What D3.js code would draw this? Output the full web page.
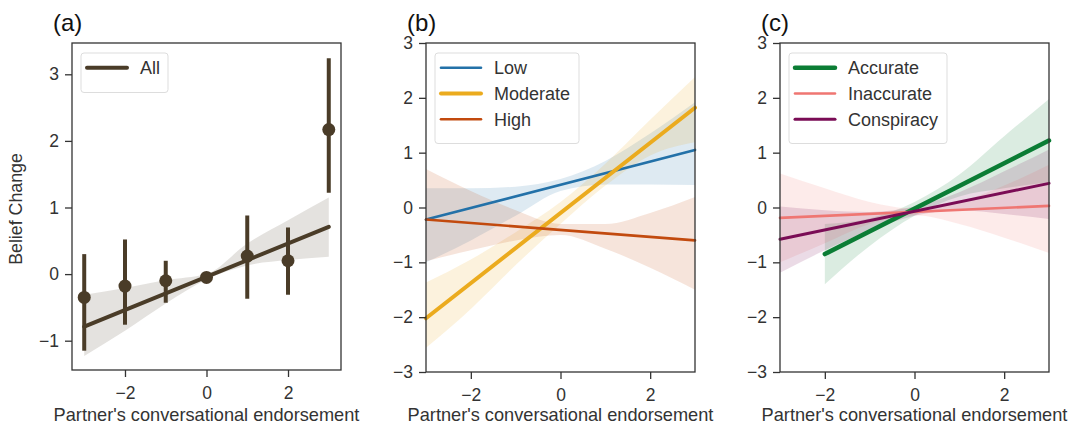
<!DOCTYPE html>
<html>
<head>
<meta charset="utf-8">
<script src="https://cdn.jsdelivr.net/npm/d3@7"></script>
<style>
  body { margin: 0; background: #fff; }
  svg { font-family: "Liberation Sans", Arial, sans-serif; }
</style>
</head>
<body>
<svg id="chart" width="1073" height="428"></svg>
<script>
// ---- data ----
const bandX = [-3, -2, -1, 0, 1, 2, 3];

// (a) binned means with CIs
const allX = [-3, -2, -1, 0, 1, 2, 3];
const allMean = [-0.35, -0.18, -0.1, -0.05, 0.27, 0.2, 2.17];
const allLo = [-1.15, -0.76, -0.43, -0.09, -0.37, -0.31, 1.22];
const allHi = [0.3, 0.52, 0.2, -0.01, 0.88, 0.7, 3.24];
const allFit = [-0.79, 0.71];
const allBandLo = [-1.23, -0.85, -0.44, -0.08, 0.13, 0.21, 0.26];
const allBandHi = [-0.31, -0.21, -0.09, 0.0, 0.46, 0.81, 1.15];

// (b) by group
const lowFit = [-0.22, 1.05];
const lowBandLo = [-1.0, -0.6, -0.15, 0.3, 0.42, 0.42, 0.41];
const lowBandHi = [0.35, 0.35, 0.38, 0.52, 0.85, 1.35, 1.92];
const modFit = [-2.02, 1.82];
const modBandLo = [-2.56, -1.85, -1.05, -0.3, 0.4, 0.95, 1.19];
const modBandHi = [-1.37, -0.95, -0.45, 0.1, 0.8, 1.6, 2.38];
const highFit = [-0.22, -0.6];
const highBandLo = [-0.98, -0.78, -0.6, -0.5, -0.75, -1.1, -1.5];
const highBandHi = [0.7, 0.3, -0.05, -0.3, -0.3, -0.1, 0.19];

// (c) by message type
const accX = [-2, -1, 0, 1, 2, 3];
const accFit = [-0.85, 1.22];
const accBandLo = [-1.4, -0.7, -0.15, 0.2, 0.35, 0.46];
const accBandHi = [-0.3, -0.2, 0.1, 0.6, 1.3, 1.98];
const inaccFit = [-0.19, 0.03];
const inaccBandLo = [-1.0, -0.65, -0.3, -0.14, -0.3, -0.55, -0.83];
const inaccBandHi = [0.62, 0.35, 0.1, -0.02, 0.1, 0.4, 0.78];
const conspFit = [-0.58, 0.44];
const conspBandLo = [-1.19, -0.78, -0.42, -0.15, -0.05, -0.12, -0.21];
const conspBandHi = [0.02, -0.05, -0.08, 0.02, 0.28, 0.66, 1.06];

const xTicks = [-2, 0, 2];

const svg = d3.select("#chart");

function panel(opt) {
  const x = d3.scaleLinear().domain(opt.xDomain).range([opt.left, opt.right]);
  const y = d3.scaleLinear().domain(opt.yDomain).range([opt.bottom, opt.top]);
  const g = svg.append("g");

  // bands first
  opt.series.forEach(s => {
    const pts = s.bandX.map((d, i) => ({x: d, lo: s.bandLo[i], hi: s.bandHi[i]}));
    g.append("path").datum(pts)
      .attr("fill", s.color).attr("fill-opacity", 0.15)
      .attr("d", d3.area().x(d => x(d.x)).y0(d => y(d.lo)).y1(d => y(d.hi)).curve(d3.curveMonotoneX));
  });
  opt.series.forEach(s => {
    g.append("line")
      .attr("x1", x(s.fitX[0])).attr("x2", x(s.fitX[1]))
      .attr("y1", y(s.fit[0])).attr("y2", y(s.fit[1]))
      .attr("stroke", s.color).attr("stroke-width", s.width).attr("stroke-linecap", "round");
  });
  if (opt.points) opt.points(g, x, y);

  // axes
  const ya = g.append("g").attr("transform", `translate(${opt.left},0)`)
    .call(d3.axisLeft(y).tickValues(opt.yTicks).tickSize(7).tickPadding(6).tickFormat(d3.format("d")));
  const xa = g.append("g").attr("transform", `translate(0,${opt.bottom})`)
    .call(d3.axisBottom(x).tickValues(xTicks).tickSize(7).tickPadding(10).tickFormat(d3.format("d")));
  [ya, xa].forEach(a => {
    a.select(".domain").remove();
    a.selectAll("line").attr("stroke", "#333").attr("stroke-width", 1.3);
    a.selectAll("text").attr("font-size", 17.5).attr("fill", "#333").attr("font-family", "Liberation Sans, Arial, sans-serif");
  });
  g.append("rect").attr("x", opt.left).attr("y", opt.top)
    .attr("width", opt.right - opt.left).attr("height", opt.bottom - opt.top)
    .attr("fill", "none").attr("stroke", "#333").attr("stroke-width", 1.3);

  g.append("text").attr("x", (opt.left + opt.right) / 2).attr("y", 421)
    .attr("text-anchor", "middle").attr("font-size", 18.2).attr("fill", "#333")
    .text("Partner's conversational endorsement");
  g.append("text").attr("x", opt.left - 19).attr("y", 31)
    .attr("font-size", 24).attr("fill", "#111").text(opt.title);

  // legend
  const lg = g.append("g");
  const lw = opt.legendW, lh = 14 + opt.series.length * 25.5;
  lg.append("rect").attr("x", opt.left + 9).attr("y", 53).attr("width", lw).attr("height", lh)
    .attr("rx", 3).attr("fill", "#fff").attr("fill-opacity", 0.8).attr("stroke", "#ddd");
  opt.series.forEach((s, i) => {
    const yy = 67.7 + i * 25.8;
    lg.append("line").attr("x1", opt.left + 15).attr("x2", opt.left + 55)
      .attr("y1", yy).attr("y2", yy)
      .attr("stroke", s.color).attr("stroke-width", s.width).attr("stroke-linecap", "round");
    lg.append("text").attr("x", opt.left + 68).attr("y", yy + 6.3)
      .attr("font-size", 18).attr("fill", "#333").text(s.name);
  });
}

const brown = "#4a3c28";

panel({
  title: "(a)", left: 72, right: 341, top: 43, bottom: 370,
  xDomain: [-3.3, 3.3], yDomain: [-1.44, 3.47], yTicks: [-1, 0, 1, 2, 3],
  legendW: 87,
  series: [{name: "All", color: brown, width: 4, fitX: [-3, 3], fit: allFit,
            bandX: bandX, bandLo: allBandLo, bandHi: allBandHi}],
  points: (g, x, y) => {
    allX.forEach((d, i) => {
      g.append("line").attr("x1", x(d)).attr("x2", x(d))
        .attr("y1", y(allLo[i])).attr("y2", y(allHi[i]))
        .attr("stroke", brown).attr("stroke-width", 4);
      g.append("circle").attr("cx", x(d)).attr("cy", y(allMean[i])).attr("r", 6.5).attr("fill", brown);
    });
  }
});

panel({
  title: "(b)", left: 426, right: 695, top: 43, bottom: 372,
  xDomain: [-3, 3], yDomain: [-3, 3], yTicks: [-3, -2, -1, 0, 1, 2, 3],
  legendW: 144,
  series: [
    {name: "Low", color: "#2371a8", width: 2.6, fitX: [-3, 3], fit: lowFit, bandX: bandX, bandLo: lowBandLo, bandHi: lowBandHi},
    {name: "Moderate", color: "#ebab1e", width: 4, fitX: [-3, 3], fit: modFit, bandX: bandX, bandLo: modBandLo, bandHi: modBandHi},
    {name: "High", color: "#c24a0e", width: 2.6, fitX: [-3, 3], fit: highFit, bandX: bandX, bandLo: highBandLo, bandHi: highBandHi}
  ]
});

panel({
  title: "(c)", left: 780, right: 1049, top: 43, bottom: 372,
  xDomain: [-3, 3], yDomain: [-3, 3], yTicks: [-3, -2, -1, 0, 1, 2, 3],
  legendW: 158,
  series: [
    {name: "Accurate", color: "#0b7d35", width: 4.5, fitX: [-2, 3], fit: accFit, bandX: accX, bandLo: accBandLo, bandHi: accBandHi},
    {name: "Inaccurate", color: "#ef7672", width: 2.6, fitX: [-3, 3], fit: inaccFit, bandX: bandX, bandLo: inaccBandLo, bandHi: inaccBandHi},
    {name: "Conspiracy", color: "#7a0c55", width: 3, fitX: [-3, 3], fit: conspFit, bandX: bandX, bandLo: conspBandLo, bandHi: conspBandHi}
  ]
});

// y label on panel a
svg.append("text").attr("transform", "translate(22,209) rotate(-90)")
  .attr("text-anchor", "middle").attr("font-size", 17.8).attr("fill", "#333").text("Belief Change");
</script>
</body>
</html>
